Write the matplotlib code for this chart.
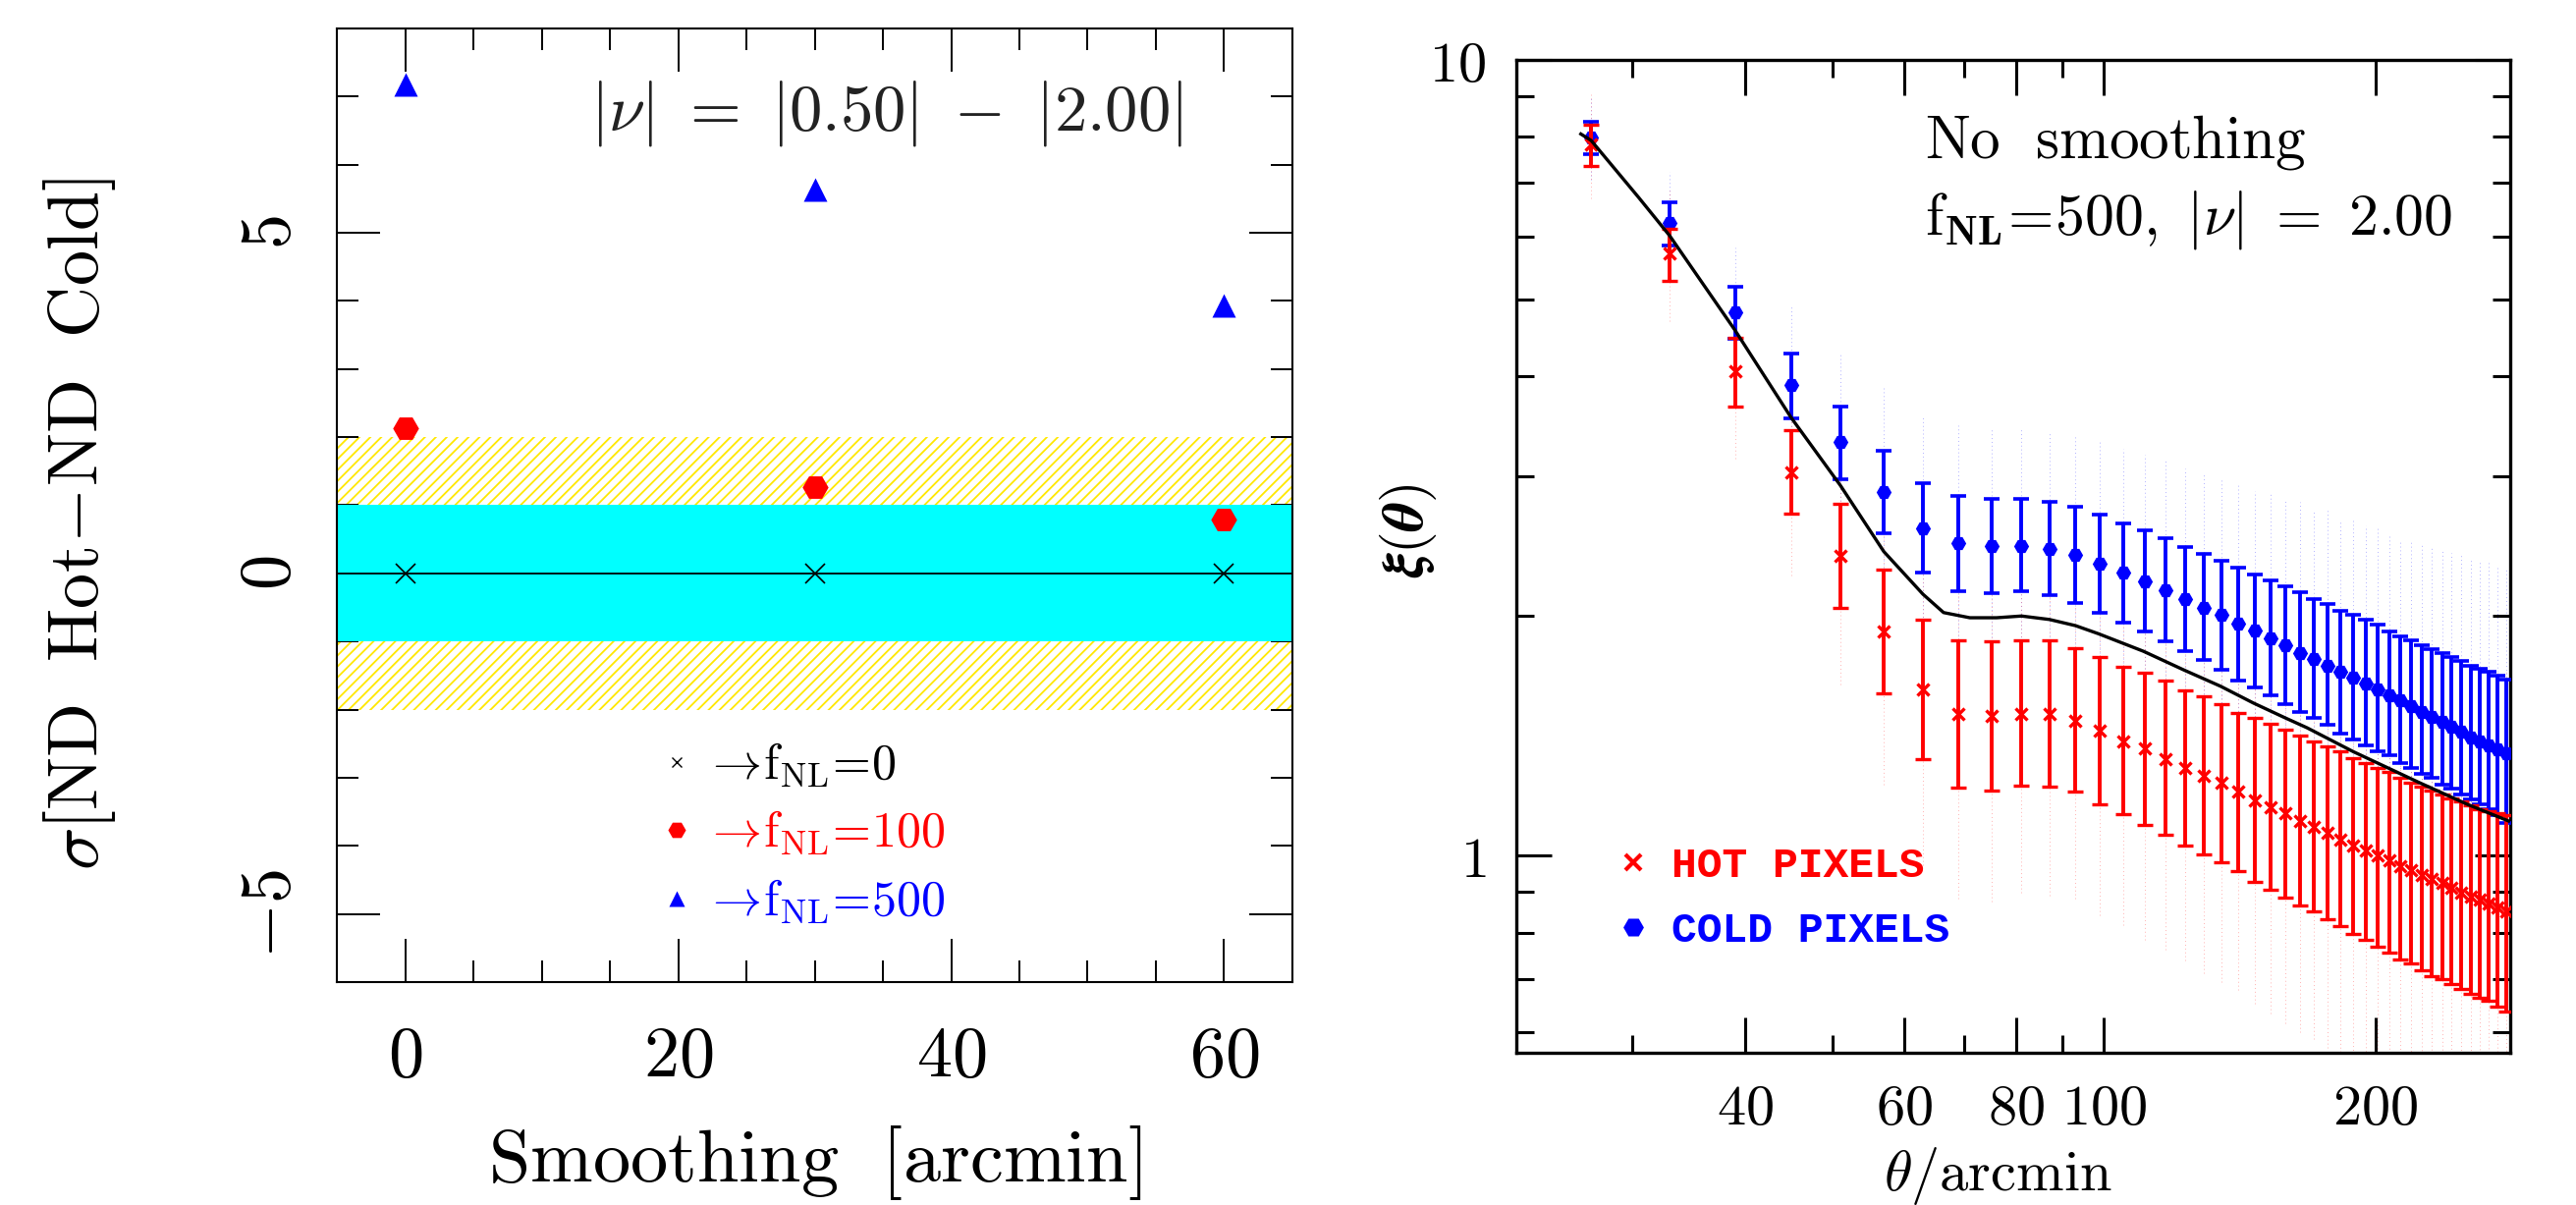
import numpy as np
import matplotlib
matplotlib.use('Agg')
import matplotlib.pyplot as plt
from matplotlib.ticker import FixedLocator, FixedFormatter, NullFormatter, MultipleLocator, FuncFormatter
from matplotlib.lines import Line2D
from matplotlib.font_manager import FontProperties

plt.rcParams['mathtext.fontset'] = 'cm'
plt.rcParams['font.family'] = ['DejaVu Serif']
plt.rcParams['hatch.linewidth'] = 1.3

# ---------------- left panel data ----------------
smoothing = [0, 30, 60]
sigma_fnl0 = [0.0, 0.0, 0.0]
sigma_fnl100 = [2.13, 1.27, 0.79]
sigma_fnl500 = [7.18, 5.63, 3.93]
band_1sig = (-1.0, 1.0)
band_2sig = (-2.0, 2.0)

# ---------------- right panel data ----------------
theta = [27, 33, 39, 45, 51, 57, 63, 69, 75, 81, 87, 93, 99, 105, 111, 117, 123,
         129, 135, 141, 147, 153, 159, 165, 171, 177, 183, 189, 195, 201, 207, 213,
         219, 225, 231, 237, 243, 249, 255, 261, 267, 273, 279]
cold = [7.99, 6.24, 4.81, 3.90, 3.31, 2.86, 2.58, 2.47, 2.45, 2.45, 2.43, 2.387, 2.328,
        2.267, 2.213, 2.157, 2.098, 2.048, 2.005, 1.957, 1.918, 1.876, 1.839, 1.796,
        1.768, 1.731, 1.702, 1.672, 1.646, 1.617, 1.590, 1.566, 1.542, 1.515, 1.494,
        1.471, 1.451, 1.430, 1.408, 1.392, 1.375, 1.359, 1.343]
cold_hi = [8.36, 6.62, 5.19, 4.28, 3.67, 3.23, 2.94, 2.83, 2.806, 2.806, 2.785, 2.746,
           2.68, 2.617, 2.562, 2.504, 2.442, 2.393, 2.35, 2.30, 2.253, 2.219, 2.179,
           2.141, 2.098, 2.073, 2.031, 2.007, 1.977, 1.95, 1.915, 1.886, 1.864, 1.837,
           1.816, 1.795, 1.774, 1.757, 1.731, 1.716, 1.702, 1.682, 1.662]
cold_lo = [7.61, 5.85, 4.46, 3.54, 2.97, 2.54, 2.265, 2.15, 2.138, 2.146, 2.127, 2.078,
           2.017, 1.963, 1.913, 1.861, 1.806, 1.759, 1.711, 1.661, 1.625, 1.589, 1.55,
           1.515, 1.489, 1.459, 1.425, 1.400, 1.375, 1.354, 1.335, 1.307, 1.289, 1.266,
           1.251, 1.229, 1.212, 1.193, 1.175, 1.159, 1.145, 1.125, 1.10]
hot = [7.83, 5.71, 4.06, 3.03, 2.38, 1.91, 1.617, 1.506, 1.498, 1.506, 1.506, 1.477,
       1.436, 1.393, 1.364, 1.323, 1.287, 1.261, 1.236, 1.202, 1.174, 1.149, 1.129,
       1.104, 1.086, 1.067, 1.048, 1.030, 1.015, 1.000, 0.986, 0.971, 0.959, 0.944,
       0.935, 0.923, 0.912, 0.899, 0.888, 0.881, 0.871, 0.860, 0.850]
hot_hi = [8.30, 6.14, 4.47, 3.42, 2.77, 2.29, 1.98, 1.866, 1.858, 1.862, 1.862, 1.822,
          1.778, 1.728, 1.697, 1.657, 1.612, 1.584, 1.55, 1.509, 1.488, 1.465, 1.439,
          1.414, 1.392, 1.370, 1.351, 1.327, 1.307, 1.289, 1.274, 1.254, 1.236, 1.222,
          1.208, 1.193, 1.179, 1.170, 1.156, 1.145, 1.138, 1.132, 1.125]
hot_lo = [7.36, 5.28, 3.67, 2.69, 2.05, 1.60, 1.32, 1.216, 1.208, 1.225, 1.22, 1.202,
          1.16, 1.126, 1.093, 1.061, 1.03, 1.003, 0.981, 0.956, 0.927, 0.905, 0.886,
          0.865, 0.850, 0.832, 0.816, 0.798, 0.783, 0.768, 0.755, 0.741, 0.731, 0.718,
          0.705, 0.700, 0.689, 0.679, 0.671, 0.663, 0.656, 0.646, 0.636]
model_theta = [26.3, 27.0, 30.5, 33.0, 39.0, 45.0, 51.0, 57.0, 63.0, 66.4, 71.0, 76.0,
               81.0, 87.0, 93.0, 98.6, 110.6, 122.6, 134.7, 146.4, 158.5, 168.0, 188.9,
               223.3, 253.2, 281.0]
model_xi = [8.07, 7.92, 6.71, 6.01, 4.57, 3.55, 2.92, 2.41, 2.13, 2.02, 1.99, 1.99,
            2.00, 1.98, 1.945, 1.90, 1.806, 1.711, 1.632, 1.555, 1.491, 1.447, 1.351,
            1.236, 1.159, 1.105]

fig = plt.figure(figsize=(26.23, 12.27), dpi=100)
axL = fig.add_axes([0.1308, 0.185, 0.3709, 0.7914])
axR = fig.add_axes([0.5886, 0.1263, 0.3858, 0.824])

# ================= LEFT =================
axL.axhspan(band_2sig[0], band_2sig[1], facecolor='none', edgecolor='#ffe800',
            hatch='///', linewidth=0, zorder=1)
axL.axhspan(band_1sig[0], band_1sig[1], facecolor='#00ffff', edgecolor='none', zorder=2)
axL.axhline(0, color='black', lw=1.3, zorder=3)
axL.plot(smoothing, sigma_fnl0, ls='none', marker='x', ms=14, mew=1.2, color='black', zorder=4)
axL.plot(smoothing, sigma_fnl100, ls='none', marker='H', ms=19, color='red', mec='none', zorder=4)
axL.plot(smoothing, sigma_fnl500, ls='none', marker='^', ms=17, color='blue', mec='none', zorder=4)

axL.set_xlim(-5, 65)
axL.set_ylim(-6, 8)
axL.xaxis.set_major_locator(FixedLocator([0, 20, 40, 60]))
axL.xaxis.set_minor_locator(MultipleLocator(5))
axL.yaxis.set_major_locator(FixedLocator([-5, 0, 5]))
axL.yaxis.set_minor_locator(MultipleLocator(1))
fmt = FuncFormatter(lambda v, p: r'$%d$' % v)
axL.xaxis.set_major_formatter(fmt)
axL.yaxis.set_major_formatter(fmt)
axL.tick_params(which='both', direction='in', top=True, right=True, width=1.4)
axL.tick_params(which='major', length=32, labelsize=52)
axL.tick_params(which='minor', length=16)
axL.tick_params(axis='x', which='major', pad=29)
axL.tick_params(axis='y', which='major', pad=24, labelrotation=90)
for lab in axL.get_yticklabels():
    lab.set_va('center')
for s in axL.spines.values():
    s.set_linewidth(1.5)

axL.set_xlabel(r'$\mathrm{Smoothing\ \ [arcmin]}$', fontsize=55)
axL.xaxis.set_label_coords(0.5, -0.148)
axL.set_ylabel(r'$\sigma\mathrm{[ND\ \ Hot\!-\!ND\ \ Cold]}$', fontsize=52)
axL.yaxis.set_label_coords(-0.229, 0.48)

axL.text(0.575, 0.911, r'$|\nu|\ =\ |0.50|\ -\ |2.00|$', transform=axL.transAxes,
         fontsize=48, color='#222222', ha='center', va='center')

hL = [Line2D([], [], ls='none', marker='x', ms=7, mew=1.0, color='black'),
      Line2D([], [], ls='none', marker='H', ms=13, color='red', mec='none'),
      Line2D([], [], ls='none', marker='^', ms=11, color='blue', mec='none')]
labL = [r'$\rightarrow\!\mathrm{f_{NL}\!=\!0}$', r'$\rightarrow\!\mathrm{f_{NL}\!=\!100}$',
        r'$\rightarrow\!\mathrm{f_{NL}\!=\!500}$']
legL = axL.legend(hL, labL, loc='upper left', bbox_to_anchor=(0.3402, 0.253),
                  frameon=False, fontsize=36, handlelength=0.6, handletextpad=0.25,
                  labelspacing=0.4, borderpad=0, borderaxespad=0,
                  labelcolor=['black', 'red', 'blue'])

# ================= RIGHT =================
axR.set_xscale('log')
axR.set_yscale('log')
th = np.array(theta)
for vals, hi, lo, col in [(cold, cold_hi, cold_lo, 'blue'), (hot, hot_hi, hot_lo, 'red')]:
    v = np.array(vals); h = np.array(hi); l = np.array(lo)
    top = 10 ** (np.log10(v) + 2.5 * (np.log10(h) - np.log10(v)))
    bot = 10 ** (np.log10(v) - 2.5 * (np.log10(v) - np.log10(l)))
    axR.vlines(th, bot, top, colors=col, linestyles=(0, (1, 3)), lw=0.7, alpha=0.3, zorder=1)

v = np.array(cold)
axR.errorbar(theta, cold, yerr=[v - np.array(cold_lo), np.array(cold_hi) - v], fmt='H',
             color='blue', ms=11, mec='none', elinewidth=2.8, capsize=6, capthick=2.6, zorder=3)
v = np.array(hot)
axR.errorbar(theta, hot, yerr=[v - np.array(hot_lo), np.array(hot_hi) - v], fmt='x',
             color='red', ms=9, mew=2.4, elinewidth=2.8, capsize=6, capthick=2.6, zorder=4)
axR.plot(model_theta, model_xi, color='black', lw=2.4, zorder=5)

axR.set_xlim(22.3, 282)
axR.set_ylim(0.565, 10)
axR.xaxis.set_major_locator(FixedLocator([40, 60, 80, 100, 200]))
axR.xaxis.set_major_formatter(FixedFormatter([r'$40$', r'$60$', r'$80$', r'$100$', r'$200$']))
axR.xaxis.set_minor_locator(FixedLocator([30, 50, 70, 90]))
axR.xaxis.set_minor_formatter(NullFormatter())
axR.yaxis.set_major_locator(FixedLocator([1, 10]))
axR.yaxis.set_major_formatter(FixedFormatter([r'$1$', r'$10$']))
axR.yaxis.set_minor_locator(FixedLocator([0.6, 0.7, 0.8, 0.9, 2, 3, 4, 5, 6, 7, 8, 9]))
axR.yaxis.set_minor_formatter(NullFormatter())
axR.tick_params(which='both', direction='in', top=True, right=True, width=2.2)
axR.tick_params(which='major', length=26, labelsize=42)
axR.tick_params(which='minor', length=13)
axR.tick_params(axis='x', which='major', pad=21)
axR.tick_params(axis='y', which='major', pad=22)
for s in axR.spines.values():
    s.set_linewidth(2.4)

axR.set_xlabel(r'$\theta/\mathrm{arcmin}$', fontsize=42)
axR.xaxis.set_label_coords(0.485, -0.093)
axR.set_ylabel(r'$\boldsymbol{\xi(\theta)}$', fontsize=42)
axR.yaxis.set_label_coords(-0.078, 0.526)

axR.text(0.411, 0.902, r'$\mathrm{No\ \ smoothing}$', transform=axR.transAxes,
         fontsize=44, ha='left', va='baseline')
axR.text(0.411, 0.824, r'$\mathrm{f}_{\mathbf{NL}}\!=\!\mathrm{500,}\ |\nu|\ =\ 2.00$',
         transform=axR.transAxes, fontsize=43, ha='left', va='baseline')

hR = [Line2D([], [], ls='none', marker='x', ms=11, mew=3.0, color='red'),
      Line2D([], [], ls='none', marker='H', ms=15, color='blue', mec='none')]
legR = axR.legend(hR, ['HOT PIXELS', 'COLD PIXELS'], loc='lower left',
                  bbox_to_anchor=(0.0964, 0.103), frameon=False,
                  prop=FontProperties(family='Liberation Mono', weight='bold', size=31),
                  handlelength=1.0, handletextpad=0.41, labelspacing=0.6,
                  borderpad=0, borderaxespad=0, labelcolor=['red', 'blue'])

fig.savefig('out.png', dpi=100)
